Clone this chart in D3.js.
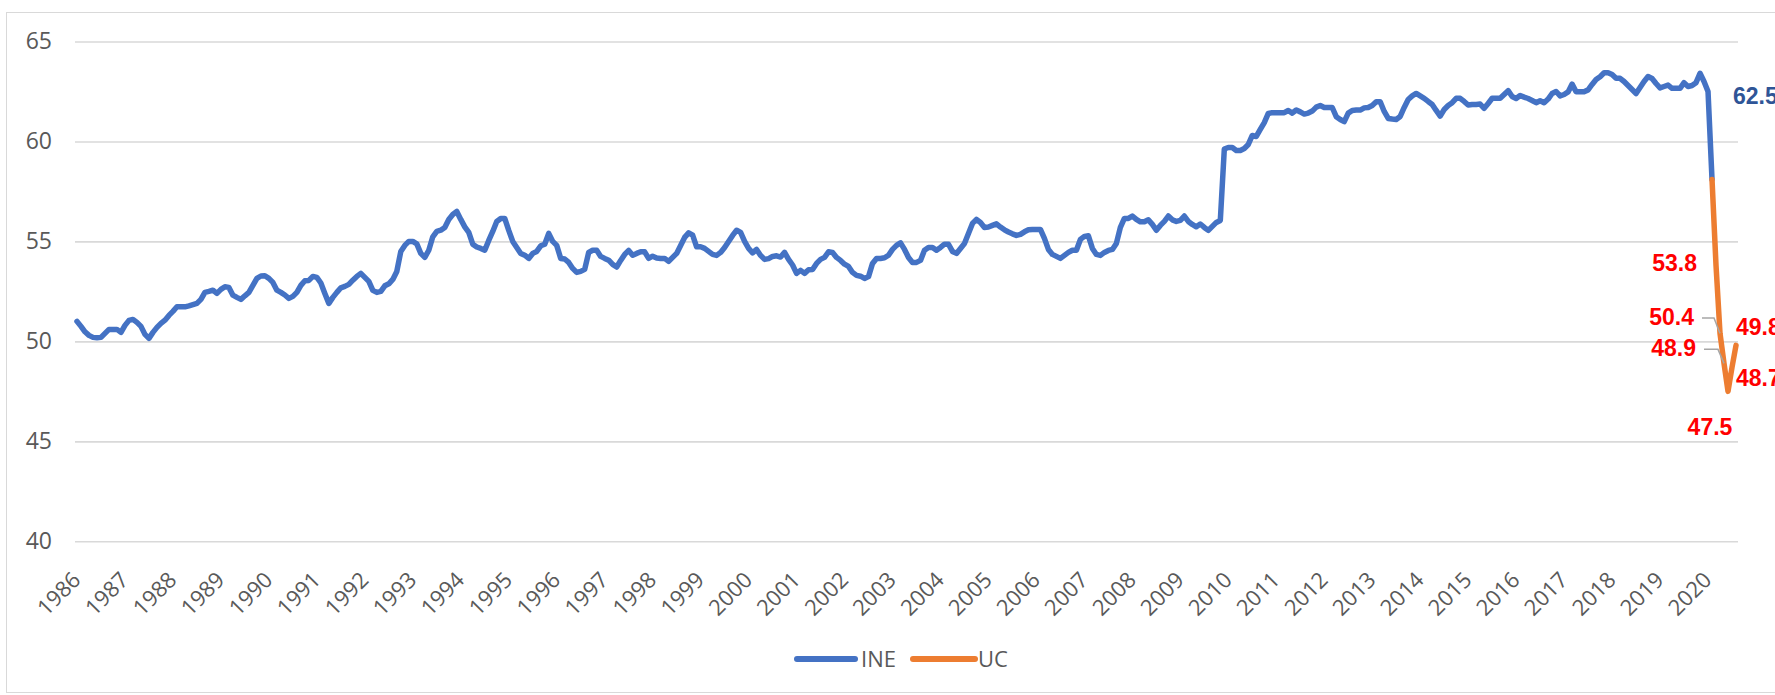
<!DOCTYPE html>
<html><head><meta charset="utf-8">
<script src="https://cdn.jsdelivr.net/npm/d3@7"></script>
<style>html,body{margin:0;padding:0;background:#fff;overflow:hidden}</style>
</head><body><svg id="c" width="1775" height="695"></svg>
<script>
// ---- DATA ----
const startYear = 1986, endYear = 2020, lastMonth = 8; // Jan 1986 .. Aug 2020
const yTicks = [40, 45, 50, 55, 60, 65];
const yearLabels = d3.range(1986, 2021).map(String);
// INE, monthly from Jan 1986
const ine = [
51.0,50.75,50.48,50.3,50.2,50.18,50.2,50.4,50.6,50.6,50.6,50.45,
50.8,51.05,51.1,50.95,50.75,50.35,50.15,50.45,50.7,50.9,51.06,51.3,
51.5,51.73,51.73,51.73,51.78,51.84,51.9,52.1,52.45,52.5,52.56,52.4,
52.6,52.73,52.7,52.31,52.2,52.1,52.28,52.45,52.8,53.15,53.27,53.28,
53.15,52.95,52.56,52.45,52.32,52.15,52.25,52.45,52.8,53.03,53.05,53.25,
53.2,52.92,52.4,51.9,52.2,52.45,52.68,52.75,52.85,53.06,53.25,53.4,
53.2,53.0,52.55,52.45,52.5,52.78,52.88,53.1,53.5,54.5,54.8,55.0,
55.0,54.88,54.4,54.2,54.56,55.23,55.5,55.56,55.7,56.1,56.35,56.5,
56.1,55.73,55.45,54.86,54.72,54.65,54.56,55.05,55.5,56.0,56.15,56.15,
55.55,55.0,54.7,54.4,54.31,54.15,54.4,54.5,54.78,54.86,55.4,55.0,
54.8,54.15,54.12,53.95,53.65,53.45,53.5,53.6,54.45,54.56,54.56,54.25,
54.15,54.06,53.85,53.72,54.05,54.35,54.55,54.31,54.4,54.48,54.48,54.15,
54.26,54.17,54.15,54.15,54.0,54.2,54.4,54.8,55.2,55.43,55.31,54.73,
54.73,54.65,54.5,54.35,54.3,54.45,54.7,55.0,55.3,55.56,55.45,55.0,
54.65,54.43,54.6,54.3,54.1,54.14,54.25,54.28,54.22,54.45,54.1,53.82,
53.4,53.55,53.4,53.58,53.6,53.9,54.1,54.2,54.48,54.45,54.2,54.05,
53.86,53.75,53.45,53.3,53.26,53.15,53.24,53.9,54.15,54.15,54.18,54.31,
54.6,54.8,54.93,54.6,54.2,53.95,53.95,54.05,54.56,54.7,54.7,54.56,
54.7,54.86,54.86,54.5,54.4,54.65,54.9,55.4,55.9,56.1,55.95,55.7,
55.72,55.8,55.88,55.72,55.58,55.47,55.38,55.3,55.35,55.48,55.58,55.6,
55.6,55.6,55.15,54.6,54.35,54.25,54.15,54.3,54.45,54.56,54.56,55.1,
55.25,55.28,54.65,54.35,54.3,54.45,54.55,54.6,54.9,55.7,56.15,56.15,
56.27,56.1,55.98,55.98,56.08,55.85,55.56,55.8,56.0,56.27,56.08,56.0,
56.05,56.27,56.0,55.85,55.73,55.87,55.7,55.55,55.75,55.95,56.05,59.62,
59.7,59.7,59.55,59.55,59.65,59.85,60.3,60.25,60.6,60.94,61.4,61.44,
61.44,61.44,61.44,61.55,61.42,61.57,61.48,61.37,61.42,61.52,61.72,61.8,
61.7,61.7,61.7,61.24,61.1,60.99,61.42,61.55,61.57,61.57,61.68,61.7,
61.8,61.99,61.99,61.5,61.15,61.12,61.1,61.25,61.7,62.1,62.28,62.4,
62.28,62.16,62.0,61.85,61.55,61.27,61.6,61.8,61.94,62.16,62.16,62.0,
61.82,61.85,61.85,61.87,61.66,61.9,62.16,62.16,62.16,62.35,62.54,62.25,
62.15,62.3,62.22,62.15,62.05,61.94,62.04,61.94,62.12,62.4,62.5,62.28,
62.35,62.48,62.87,62.49,62.49,62.49,62.58,62.85,63.1,63.24,63.44,63.44,
63.35,63.16,63.16,63.0,62.8,62.6,62.4,62.7,63.0,63.25,63.15,62.9,
62.68,62.75,62.82,62.66,62.66,62.66,62.94,62.75,62.8,62.94,63.41,63.0,
62.5,58.1
];
// UC, Feb 2020 .. Aug 2020
const ucMonths = ["2020-02","2020-03","2020-04","2020-05","2020-06","2020-07","2020-08"];
const uc = [58.1, 53.8, 50.4, 48.9, 47.5, 48.7, 49.8];
const ineLabelMonth = "2020-01", ineLabelValue = 62.5;

// ---- CATEGORIES ----
const months = [];
for (let y = startYear; y <= endYear; y++) {
  for (let m = 1; m <= 12; m++) {
    if (y === endYear && m > lastMonth) break;
    months.push(y + "-" + String(m).padStart(2, "0"));
  }
}

const svg = d3.select("#c");
const L = 75, R = 1738, T = 41.5, B = 541.3;
const x = d3.scaleBand().domain(months).range([L, R]).padding(0);
const cx = k => x(k) + x.bandwidth() / 2;
const y = d3.scaleLinear().domain([40, 65]).range([B, T]);

// chart frame
svg.append("rect").attr("x", 6.5).attr("y", 12.5).attr("width", 1800).attr("height", 680)
  .attr("fill", "none").attr("stroke", "#d9d9d9").attr("stroke-width", 1);

// y axis + gridlines
const ya = svg.append("g").attr("transform", `translate(${L},0)`)
  .call(d3.axisLeft(y).tickValues(yTicks).tickSize(-(R - L)).tickPadding(23).tickFormat(d3.format("d")));
ya.select(".domain").remove();
ya.selectAll(".tick line").attr("stroke", "#d9d9d9").attr("stroke-width", 1.6);
ya.selectAll(".tick text").attr("fill", "#595959").style("font-family", "'Open Sans', sans-serif").style("font-size", "23px");

// x axis labels
const janMonths = yearLabels.map(yr => yr + "-01");
const xa = svg.append("g").attr("transform", `translate(0,${B})`)
  .call(d3.axisBottom(x).tickValues(janMonths).tickSize(0).tickFormat(d => d.slice(0, 4)));
xa.select(".domain").remove();
xa.selectAll(".tick text")
  .attr("fill", "#595959").style("font-family", "'Open Sans', sans-serif").style("font-size", "22px")
  .attr("text-anchor", "end").attr("y", 0).attr("dy", 0)
  .attr("transform", "translate(5,40) rotate(-45)");

// lines
const line = d3.line().x(d => cx(d.m)).y(d => y(d.v));
const ineData = ine.map((v, i) => ({m: months[i], v}));
const ucData = uc.map((v, i) => ({m: ucMonths[i], v}));
svg.append("path").datum(ineData).attr("d", line).attr("fill", "none")
  .attr("stroke", "#4472C4").attr("stroke-width", 5.5).attr("stroke-linejoin", "round").attr("stroke-linecap", "round");
svg.append("path").datum(ucData).attr("d", line).attr("fill", "none")
  .attr("stroke", "#ED7D31").attr("stroke-width", 5.5).attr("stroke-linejoin", "round").attr("stroke-linecap", "round");

// data labels
const lblFont = "'Liberation Sans', Arial, sans-serif";
svg.append("text").attr("x", cx(ineLabelMonth) + 25).attr("y", y(ineLabelValue) + 4).attr("dy", "0.35em")
  .attr("fill", "#2F5597").style("font-family", lblFont).style("font-weight", "bold").style("font-size", "23px")
  .text(ineLabelValue.toFixed(1));

const ucLabelPos = [null,
  {dx: -19, dy: -2, a: "end"},
  {dx: -26, dy: -16.5, a: "end", leader: true},
  {dx: -28, dy: -15, a: "end", leader: true},
  {dx: -18, dy: 36, a: "middle"},
  {dx: 4, dy: 11, a: "start"},
  {dx: 0, dy: -18, a: "start"}];
ucData.forEach((d, i) => {
  const p = ucLabelPos[i];
  if (!p) return;
  const px = cx(d.m), py = y(d.v);
  if (p.leader) {
    const ly = py + p.dy + 1;
    svg.append("polyline")
      .attr("points", `${px + p.dx + 8},${ly} ${px - 6},${ly} ${px},${py}`)
      .attr("fill", "none").attr("stroke", "#a6a6a6").attr("stroke-width", 1.5);
  }
  svg.append("text").attr("x", px + p.dx).attr("y", py + p.dy).attr("dy", "0.35em")
    .attr("text-anchor", p.a).attr("fill", "#FF0000")
    .style("font-family", lblFont).style("font-weight", "bold").style("font-size", "23px")
    .text(d.v.toFixed(1));
});

// legend
const lg = svg.append("g");
const legendItems = [{name: "INE", color: "#4472C4", x1: 797, x2: 855, tx: 861},
                     {name: "UC", color: "#ED7D31", x1: 913, x2: 975, tx: 978}];
legendItems.forEach(it => {
  lg.append("line").attr("x1", it.x1).attr("x2", it.x2).attr("y1", 659).attr("y2", 659)
    .attr("stroke", it.color).attr("stroke-width", 6).attr("stroke-linecap", "round");
  lg.append("text").attr("x", it.tx).attr("y", 659).attr("dy", "0.35em").attr("fill", "#595959")
    .style("font-family", "'Open Sans', sans-serif").style("font-size", "22px").text(it.name);
});
</script></body></html>
